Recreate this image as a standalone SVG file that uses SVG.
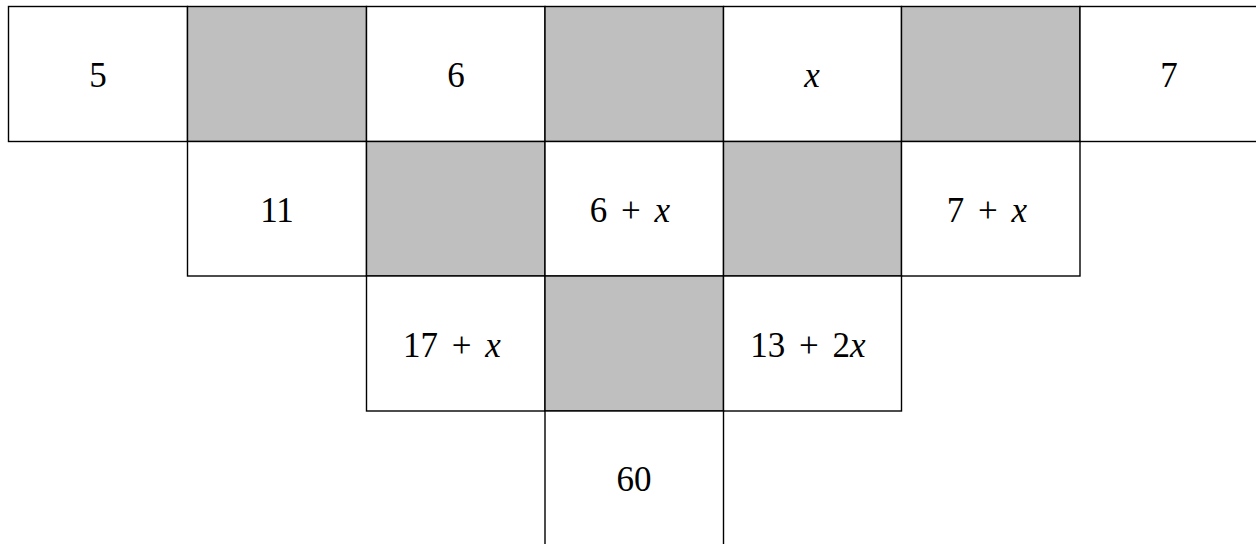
<svg xmlns="http://www.w3.org/2000/svg" width="1256" height="544" viewBox="0 0 1256 544">
<style>
.c{fill:#fff;stroke:#000;stroke-width:1.4}
.g{fill:#bfbfbf;stroke:#000;stroke-width:1.4}
text{font-family:"Liberation Serif","DejaVu Serif",serif;font-size:35px;fill:#000;text-anchor:middle}
.i{font-style:italic}
</style>
<rect width="1256" height="544" fill="#fff"/>
<g id="r1c1"><rect class="c" x="8.5" y="6.5" width="179" height="135"/><text x="98" y="87">5</text></g>
<g id="r1c2"><rect class="g" x="187.5" y="6.5" width="179" height="135"/></g>
<g id="r1c3"><rect class="c" x="366.5" y="6.5" width="178.5" height="135"/><text x="456" y="87">6</text></g>
<g id="r1c4"><rect class="g" x="545" y="6.5" width="178.5" height="135"/></g>
<g id="r1c5"><rect class="c" x="723.5" y="6.5" width="178" height="135"/><text x="812" y="87" class="i">x</text></g>
<g id="r1c6"><rect class="g" x="901.5" y="6.5" width="178.5" height="135"/></g>
<g id="r1c7"><rect class="c" x="1080" y="6.5" width="190" height="135"/><text x="1169" y="87">7</text></g>
<g id="r2c2"><rect class="c" x="187.5" y="141.5" width="179" height="134.5"/><text x="277" y="222">11</text></g>
<g id="r2c3"><rect class="g" x="366.5" y="141.5" width="178.5" height="134.5"/></g>
<g id="r2c4"><rect class="c" x="545" y="141.5" width="178.5" height="134.5"/><text x="630" y="222">6<tspan dx="5"> + </tspan><tspan dx="5" class="i">x</tspan></text></g>
<g id="r2c5"><rect class="g" x="723.5" y="141.5" width="178" height="134.5"/></g>
<g id="r2c6"><rect class="c" x="901.5" y="141.5" width="178.5" height="134.5"/><text x="987" y="222">7<tspan dx="5"> + </tspan><tspan dx="5" class="i">x</tspan></text></g>
<g id="r3c3"><rect class="c" x="366.5" y="276" width="178.5" height="135"/><text x="452" y="357">17<tspan dx="5"> + </tspan><tspan dx="5" class="i">x</tspan></text></g>
<g id="r3c4"><rect class="g" x="545" y="276" width="178.5" height="135"/></g>
<g id="r3c5"><rect class="c" x="723.5" y="276" width="178" height="135"/><text x="808" y="357">13<tspan dx="5"> + </tspan><tspan dx="5">2</tspan><tspan class="i">x</tspan></text></g>
<g id="r4c4"><rect class="c" x="545" y="411" width="178.5" height="140"/><text x="634" y="491">60</text></g>
<g id="connectors"></g>
</svg>
